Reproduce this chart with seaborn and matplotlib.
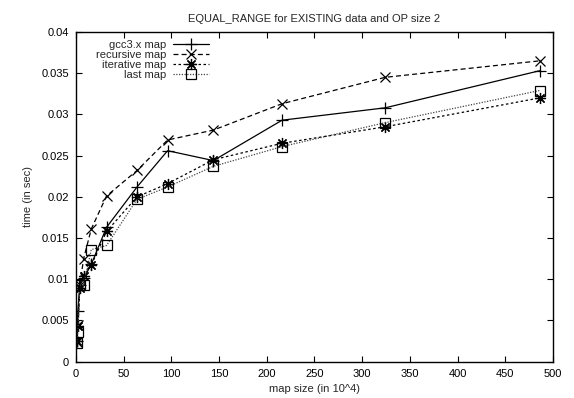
import matplotlib
matplotlib.use("Agg")
import matplotlib.pyplot as plt
import seaborn as sns
import pandas as pd
from matplotlib.ticker import FormatStrFormatter, MultipleLocator

# data
map_size = [1, 2, 4, 8, 16, 32, 64, 96, 144, 216, 324, 486]
gcc3x = [0.0025, 0.0062, 0.0093, 0.0101, 0.0118, 0.0163, 0.0212, 0.0256, 0.0244, 0.0293, 0.0308, 0.0353]
recursive = [0.0024, 0.0045, 0.0093, 0.0125, 0.0161, 0.0201, 0.0232, 0.0269, 0.0281, 0.0313, 0.0345, 0.0365]
iterative = [0.0025, 0.0043, 0.0090, 0.0104, 0.0117, 0.0158, 0.0200, 0.0216, 0.0245, 0.0265, 0.0285, 0.0320]
last = [0.0023, 0.0036, 0.0093, 0.0093, 0.0136, 0.0141, 0.0197, 0.0212, 0.0237, 0.0261, 0.0290, 0.0329]
labels = ["gcc3.x map", "recursive map", "iterative map", "last map"]
series = [gcc3x, recursive, iterative, last]
x_ticks = list(range(0, 501, 50))

sns.set_theme(style="white")
plt.rcParams['font.family'] = ['Liberation Sans', 'DejaVu Sans']
plt.rcParams['font.size'] = 8

fig = plt.figure(figsize=(5.74, 3.98), dpi=100)
ax = fig.add_axes([0.1324, 0.0912, 0.9634 - 0.1324, 0.9196 - 0.0912])

styles = [
    dict(linestyle='-', marker='+', markersize=8, color='black'),
    dict(linestyle=(0, (4, 2.5)), marker='x', markersize=7, color='black'),
    dict(linestyle=(0, (2, 2)), marker=(8, 2, 0), markersize=8, color='black'),
    dict(linestyle=(0, (1, 1.2)), marker='s', markersize=7, markerfacecolor='none', color='#444444'),
]

for lab, vals, st in zip(labels, series, styles):
    df = pd.DataFrame({"x": map_size, "y": vals})
    sns.lineplot(data=df, x="x", y="y", ax=ax, label=lab, linewidth=0.9,
                 markeredgewidth=0.9, markeredgecolor='black', **st)

ax.set_xlim(0, 500)
ax.set_ylim(0, 0.04)
ax.set_xticks(x_ticks)
ax.yaxis.set_major_locator(MultipleLocator(0.005))
ax.yaxis.set_major_formatter(FormatStrFormatter('%g'))
ax.tick_params(direction='in', length=4, width=0.8, top=True, right=True,
               bottom=True, left=True, labelsize=8, pad=5, colors='black')
for s in ax.spines.values():
    s.set_color('black')
    s.set_linewidth(1.0)
ax.set_xlabel("map size (in 10^4)", fontsize=8, labelpad=4)
ax.set_ylabel("time (in sec)", fontsize=8, labelpad=6)
ax.set_title("EQUAL_RANGE for EXISTING data and OP size 2", fontsize=8, pad=7)

ax.legend(loc='upper left', bbox_to_anchor=(0.025, 1.0), frameon=False,
          markerfirst=False, handlelength=3.3, handletextpad=0.6,
          labelspacing=0.0, fontsize=8, borderaxespad=0.3)

fig.savefig("out.png", dpi=100)
